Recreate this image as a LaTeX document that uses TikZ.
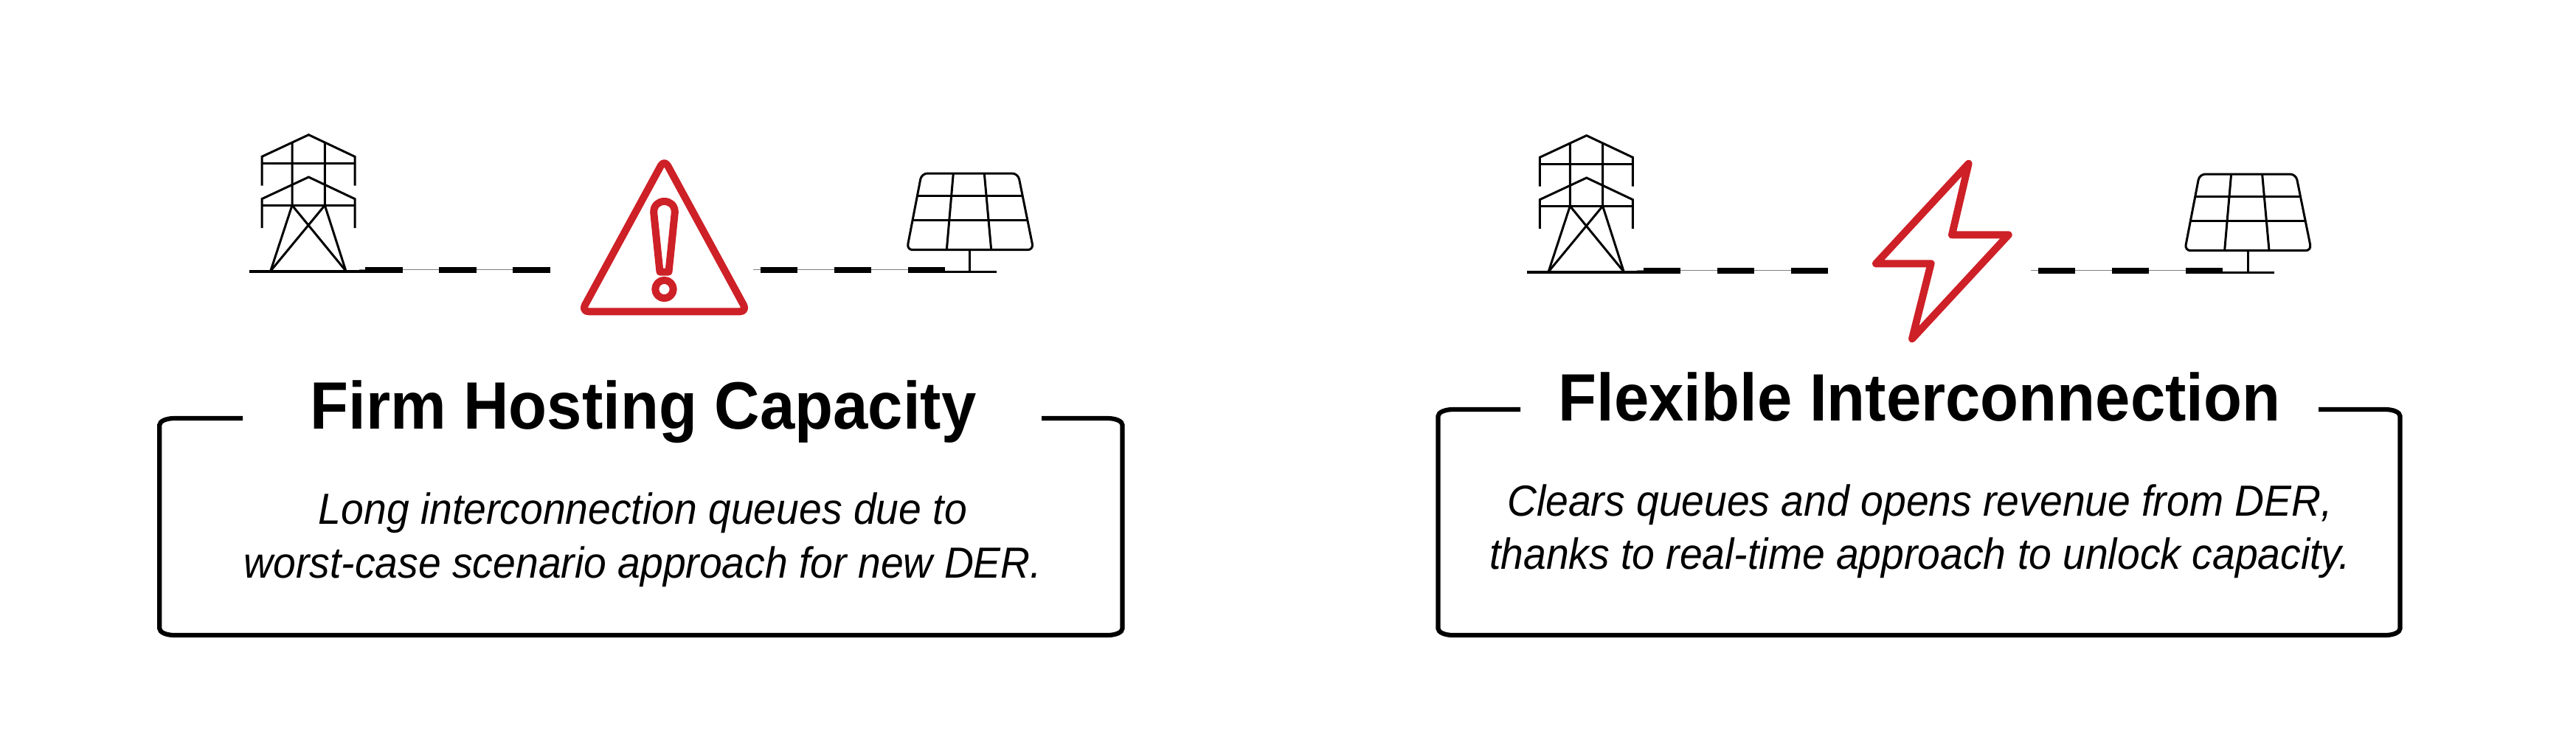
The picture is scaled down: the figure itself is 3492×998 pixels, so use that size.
\documentclass[tikz,border=0pt]{standalone}
\usepackage{fontspec}
\setmainfont[FakeStretch=0.937]{Liberation Sans}
\usepackage{tikz}
\usetikzlibrary{calc,positioning}
\definecolor{alertred}{HTML}{CE2027}
\def\pxu{0.25pt}
\tikzset{
    iconline/.style={draw=black, line width=3*\pxu},
    armline/.style={draw=black, line width=3.6*\pxu},
    redline/.style={draw=alertred, line width=10*\pxu, line join=round},
    thinline/.style={draw=gray, line width=1.2*\pxu},
    dashline/.style={draw=black, line width=8*\pxu, dash pattern=on 12.6pt off 12.4pt},
    framebox/.style={draw=black, line width=6.2*\pxu},
    title/.style={font=\bfseries\fontsize{22.7pt}{27pt}\selectfont, inner sep=0pt, anchor=base},
    body/.style={font=\itshape\fontsize{14.75pt}{18.1pt}\selectfont, inner sep=0pt, anchor=base, align=center},
    tower/.pic={
        \foreach \dy in {0,57.3}{
            \draw[iconline] (355,251.7+\dy) -- (355,212.3+\dy) -- (418.4,182.7+\dy) -- (481,212.3+\dy) -- (481,251.7+\dy);
            \draw[armline] (355,221.3+\dy) -- (481,221.3+\dy);
        }
        \draw[iconline] (396,193.3) -- (396,278.3) -- (366.8,367.3);
        \draw[iconline] (440.3,193.3) -- (440.3,278.3) -- (468.9,367.3);
        \draw[iconline] (396,278.3) -- (468.9,367.3);
        \draw[iconline] (440.3,278.3) -- (366.8,367.3);
        \draw[armline] (338,368) -- (496,368);
    },
    solar/.pic={
        \draw[iconline, rounded corners=2pt] (1249.3,235) -- (1380,235) -- (1401,338.7) -- (1229.3,338.7) -- cycle;
        \draw[armline] (1244.3,265.3) -- (1386.7,265.3);
        \draw[iconline] (1237.7,298.3) -- (1392.7,298.3);
        \draw[iconline] (1292.3,235) -- (1283.3,338.7);
        \draw[iconline] (1334.3,235) -- (1343.7,338.7);
        \draw[iconline] (1314.7,338.7) -- (1314.7,368);
        \draw[iconline] (1281,368) -- (1350.7,368);
    }
}
% left, top, right, bottom, end of left stub, start of right stub
\newcommand{\titleframe}[6]{
\draw[framebox] (#5,#2) -- (#1+20,#2) .. controls +(-11,0) and +(0,-5) .. (#1,#2+9) -- (#1,#4-9) .. controls +(0,5) and +(-11,0) .. (#1+20,#4) -- (#3-20,#4) .. controls +(11,0) and +(0,5) .. (#3,#4-9) -- (#3,#2+9) .. controls +(0,-5) and +(11,0) .. (#3-20,#2) -- (#6,#2);
}
\begin{document}
\begin{tikzpicture}[x=\pxu,y=-\pxu]
\useasboundingbox (0,0) rectangle (3492,998);
% left panel
\pic at (0,0) {tower};
\pic at (0,0) {solar};
\coordinate (a1) at (486.7,365.3);
\coordinate (a2) at (746,365.3);
\coordinate (a3) at (1021,365.3);
\coordinate (a4) at (1281,365.3);
\path[thinline] (a1) edge (a2) (a3) edge (a4);
\draw[dashline] (495.4,366) -- (746,366);
\draw[dashline] (1030.7,366) -- (1281,366);
\draw[redline, rounded corners=2.5pt] (900.5,216) -- (1012.8,422.3) -- (788.2,422.3) -- cycle;
\draw[redline] (894.5,368.5) -- (886.2,288) .. controls (886,278) and (893,273) .. (900.5,273) .. controls (908,273) and (915,278) .. (914.8,288) -- (906.5,368.5) -- cycle;
\draw[redline] (900.5,392) circle [radius=12.2];
\node[title] (firm) at (872,581.7) {Firm Hosting Capacity};
\node[body] (firmtext) at (871.5,783.3) {Long interconnection queues due to\\worst-case scenario approach for new DER.};
\titleframe{216.3}{567}{1521.5}{861}{329}{1412}
% right panel
\begin{scope}[shift={(1732.3,1)}]
\pic at (0,0) {tower};
\pic at (0,0) {solar};
\coordinate (b1) at (486.7,365.3);
\coordinate (b2) at (746,365.3);
\coordinate (b3) at (1021,365.3);
\coordinate (b4) at (1281,365.3);
\path[thinline] (b1) edge (b2) (b3) edge (b4);
\draw[dashline] (495.4,366) -- (746,366);
\draw[dashline] (1030.7,366) -- (1281,366);
\end{scope}
\draw[redline] (2668.6,221.7) -- (2646,318.3) -- (2722.7,318.3) -- (2592,459.3) -- (2617.6,357.3) -- (2543,357.3) -- cycle;
\node[title] (flex) at (2602,570) {Flexible Interconnection};
\node[body] (flextext) at (2602.5,771.7) {Clears queues and opens revenue from DER,\\thanks to real-time approach to unlock capacity.};
\titleframe{1949.5}{555}{3253.5}{861}{2061}{3143}
\end{tikzpicture}
\end{document}
